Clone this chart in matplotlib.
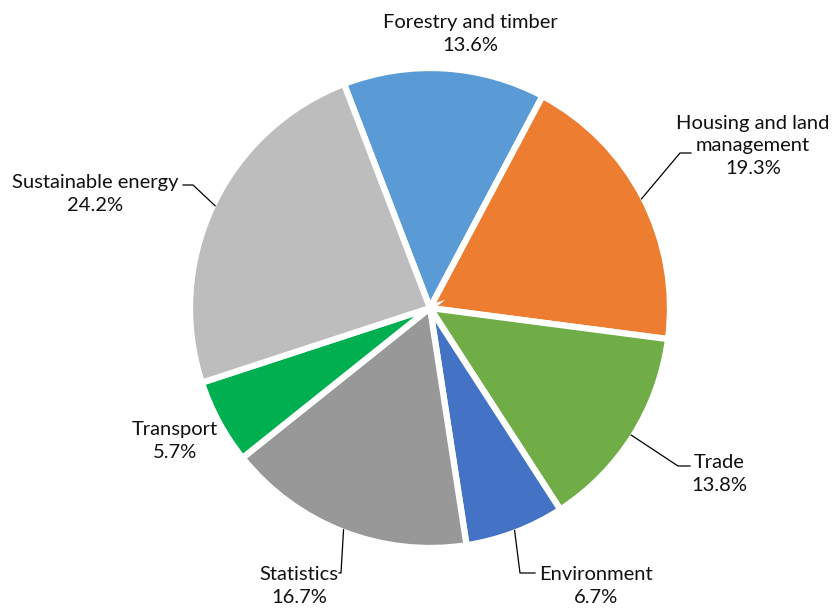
import matplotlib
matplotlib.use('Agg')
import matplotlib.pyplot as plt
import numpy as np

# Share of projects by sector, clockwise from the top
sectors = ['Forestry and timber', 'Housing and land\nmanagement', 'Trade',
           'Environment', 'Statistics', 'Transport', 'Sustainable energy']
shares = [13.6, 19.3, 13.8, 6.7, 16.7, 5.7, 24.2]
colors = ['#5B9BD5', '#ED7D31', '#70AD47', '#4472C4', '#989898', '#00B050', '#BDBDBD']

W, H = 833, 610
CX, CY, R = 430, 308, 240

# label block centres and leader paths, in pixel coords from the top-left
label_pos = [(470, 34), (753, 146), (719, 474), (596, 586), (299, 586), (175, 441), (95, 194)]
leaders = [None,
           [(680, 153), (691, 153)],
           [(678, 466), (690, 466)],
           [(520, 573), (535, 573)],
           [(341, 573), (339, 573)],
           None,
           [(193, 185), (183, 185)]]

plt.rcParams['font.family'] = ['Lato', 'DejaVu Sans']

fig = plt.figure(figsize=(W / 100, H / 100), dpi=100)
ax = fig.add_axes([0, 0, 1, 1])

wedges, _ = ax.pie(shares, colors=colors, startangle=111, counterclock=False,
                   center=(CX, H - CY), radius=R, frame=True,
                   wedgeprops=dict(edgecolor='white', linewidth=4.5))

ax.set_xlim(0, W)
ax.set_ylim(0, H)
ax.set_aspect('equal')
ax.axis('off')

for w, name, val, (lx, ly), path in zip(wedges, sectors, shares, label_pos, leaders):
    ax.text(lx, H - ly, f'{name}\n{val:.1f}%', ha='center', va='center',
            multialignment='center', fontsize=14.5, color='#111111', linespacing=1.42)
    if path is None:
        continue
    mid = np.deg2rad((w.theta1 + w.theta2) / 2)
    ex = CX + (R - 2) * np.cos(mid)
    ey = (H - CY) + (R - 2) * np.sin(mid)
    xs = [ex] + [p[0] for p in path]
    ys = [ey] + [H - p[1] for p in path]
    ax.plot(xs, ys, color='black', lw=0.9)

fig.savefig('out.png', dpi=100, facecolor='white')
